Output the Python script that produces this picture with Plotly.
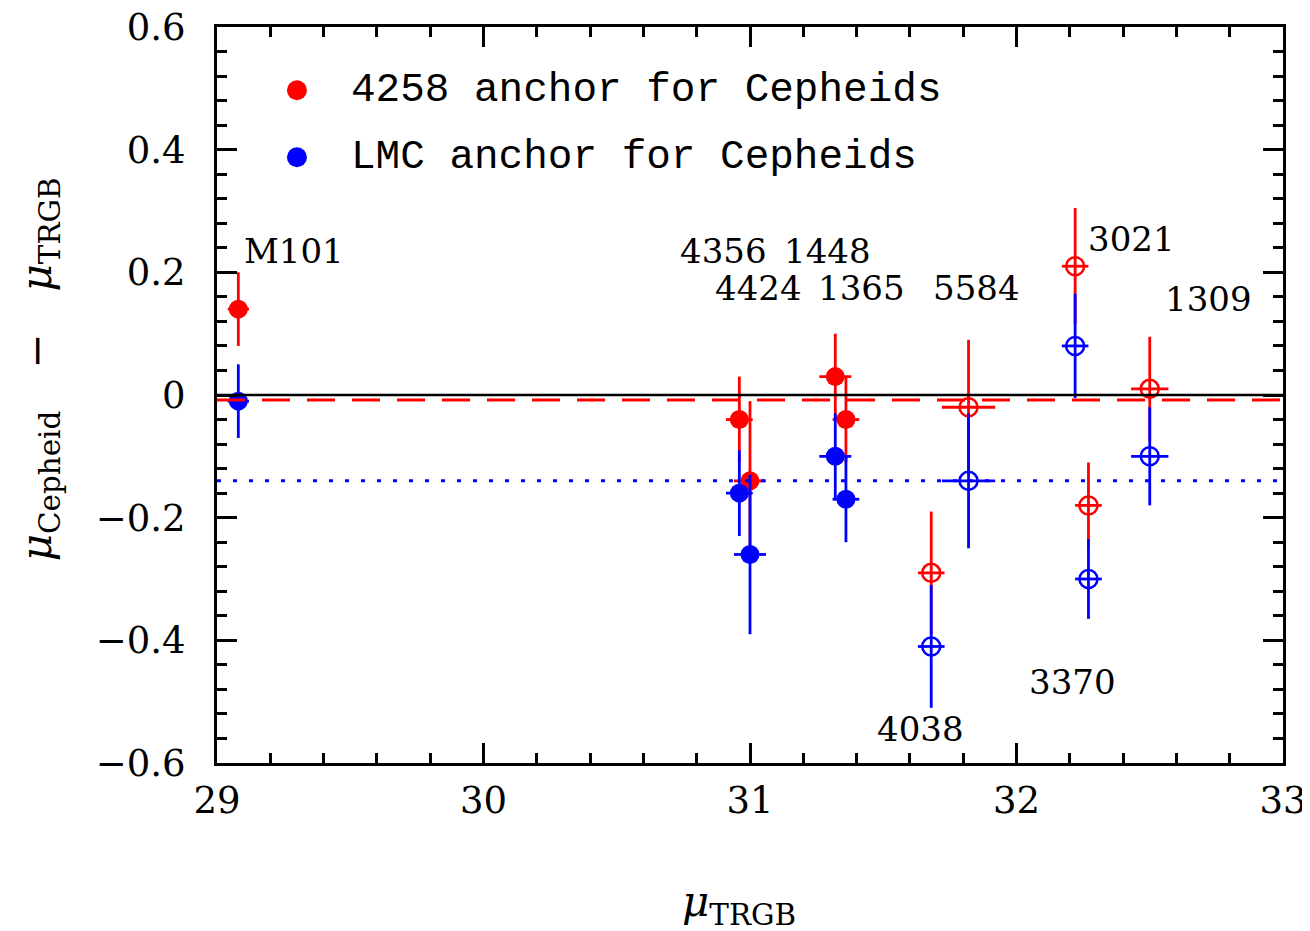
import plotly.graph_objects as go

# ---- data ----
names = ["M101", "4356", "4424", "1448", "1365", "4038", "5584", "3021", "3370", "1309"]
mu_trgb = [29.08, 30.96, 31.00, 31.32, 31.36, 31.68, 31.82, 32.22, 32.27, 32.50]
mu_trgb_err = [0.04, 0.05, 0.06, 0.06, 0.05, 0.05, 0.10, 0.05, 0.05, 0.07]
diff_4258 = [0.14, -0.04, -0.14, 0.03, -0.04, -0.29, -0.02, 0.21, -0.18, 0.01]
err_4258 = [0.06, 0.07, 0.13, 0.07, 0.07, 0.10, 0.11, 0.095, 0.07, 0.085]
diff_lmc = [-0.01, -0.16, -0.26, -0.10, -0.17, -0.41, -0.14, 0.08, -0.30, -0.10]
err_lmc = [0.06, 0.07, 0.13, 0.07, 0.07, 0.10, 0.11, 0.085, 0.065, 0.08]
filled = [True, True, True, True, True, False, False, False, False, False]

mean_4258 = -0.008
mean_lmc = -0.14

series_names = ["4258 anchor for Cepheids", "LMC anchor for Cepheids"]

# label positions (data coords) for galaxy names
label_x = [29.29, 30.90, 31.03, 31.29, 31.42, 31.64, 31.85, 32.43, 32.21, 32.72]
label_y = [0.235, 0.235, 0.175, 0.235, 0.175, -0.545, 0.175, 0.255, -0.468, 0.157]

# legend placement (paper coords)
legend_marker_x = 0.075
legend_text_x = 0.124
legend_y = [0.914, 0.823]

RED = "#FF0000"
BLUE = "#0000FF"
SERIF = "DejaVu Serif"
MONO = "Liberation Mono"


def subset(seq, flag):
    return [v for v, f in zip(seq, filled) if f == flag]


fig = go.Figure()

series = [
    (series_names[0], RED, diff_4258, err_4258),
    (series_names[1], BLUE, diff_lmc, err_lmc),
]

for name, color, yv, ye in series:
    for flag in (True, False):
        fig.add_trace(go.Scatter(
            x=subset(mu_trgb, flag),
            y=subset(yv, flag),
            mode="markers",
            name=name,
            showlegend=False,
            marker=dict(
                symbol="circle" if flag else "circle-open",
                size=19 if flag else 18,
                color=color,
                line=dict(color=color, width=2.5 if not flag else 0),
            ),
            error_y=dict(type="data", array=subset(ye, flag), visible=True,
                         color=color, thickness=2.8, width=0),
            error_x=dict(type="data", array=subset(mu_trgb_err, flag), visible=True,
                         color=color, thickness=2.8, width=0),
            hoverinfo="skip",
        ))

# reference lines
shapes = [
    dict(type="line", xref="paper", x0=0, x1=1, yref="y", y0=0, y1=0,
         line=dict(color="black", width=2.5), layer="above"),
    dict(type="line", xref="paper", x0=0, x1=1, yref="y", y0=mean_4258, y1=mean_4258,
         line=dict(color=RED, width=3, dash="28px,17px"), layer="above"),
    dict(type="line", xref="paper", x0=0, x1=1, yref="y", y0=mean_lmc, y1=mean_lmc,
         line=dict(color=BLUE, width=3, dash="4px,12px"), layer="above"),
]

annotations = []
# legend (symbol + text)
for (name, color, _, _), ly in zip(series, legend_y):
    shapes.append(dict(type="circle", xref="paper", yref="paper",
                       xsizemode="pixel", ysizemode="pixel",
                       xanchor=legend_marker_x, yanchor=ly,
                       x0=-10, x1=10, y0=-10, y1=10,
                       fillcolor=color, line=dict(width=0), layer="above"))
    annotations.append(dict(x=legend_text_x, y=ly, xref="paper", yref="paper",
                            text=name, showarrow=False,
                            font=dict(family=MONO, size=41, color="black"),
                            xanchor="left", yanchor="middle"))

for n, lx, ly in zip(names, label_x, label_y):
    annotations.append(dict(x=lx, y=ly, xref="x", yref="y", text=n, showarrow=False,
                            font=dict(family=SERIF, size=34, color="black"),
                            xanchor="center", yanchor="middle"))

# axis titles
annotations.append(dict(
    x=0.49, xref="paper", y=-0.192, yref="paper",
    text="<i>μ</i><sub>TRGB</sub>", showarrow=False,
    font=dict(family=SERIF, size=42, color="black"),
    xanchor="center", yanchor="middle"))
annotations.append(dict(
    x=-0.167, xref="paper", y=0.535, yref="paper",
    text="<i>μ</i><sub>Cepheid</sub>\u2002\u2002−\u2002\u2002<i>μ</i><sub>TRGB</sub>",
    showarrow=False, textangle=-90,
    font=dict(family=SERIF, size=42, color="black"),
    xanchor="center", yanchor="middle"))

axis_common = dict(
    showline=True, linecolor="black", linewidth=3, mirror="allticks",
    ticks="inside", ticklen=20, tickwidth=3, tickcolor="black",
    showgrid=False, zeroline=False, automargin=False,
    ticklabeloverflow="allow",
    tickfont=dict(family=SERIF, size=37, color="black"),
)

fig.update_xaxes(range=[29, 33], dtick=1, tick0=29,
                 minor=dict(dtick=0.2, ticks="inside", ticklen=10, tickwidth=3,
                            tickcolor="black", showgrid=False),
                 ticklabelstandoff=3,
                 **axis_common)
fig.update_yaxes(range=[-0.6, 0.6], dtick=0.2, tick0=0,
                 minor=dict(dtick=0.04, ticks="inside", ticklen=10, tickwidth=3,
                            tickcolor="black", showgrid=False),
                 ticklabelstandoff=21,
                 **axis_common)

# page body adds an 8px offset to the figure; margins compensate for it
fig.update_layout(
    width=1310, height=931,
    margin=dict(l=209, r=35, t=19, b=176, autoexpand=False),
    plot_bgcolor="white", paper_bgcolor="white",
    shapes=shapes,
    annotations=annotations,
    showlegend=False,
)

fig.write_html("out.html")
